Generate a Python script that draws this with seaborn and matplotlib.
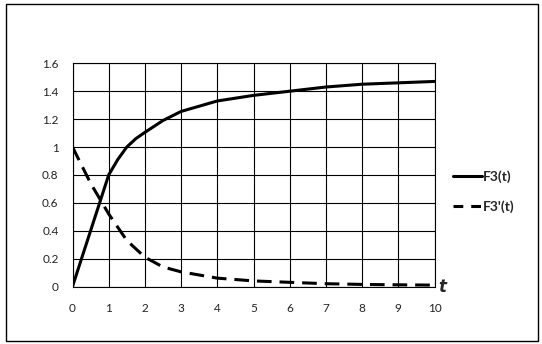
import numpy as np
import pandas as pd
import matplotlib
matplotlib.use('Agg')
import matplotlib.pyplot as plt
import seaborn as sns
from matplotlib.patches import Rectangle
from matplotlib.lines import Line2D

# values
t_f3 = [0, 1, 1.25, 1.5, 1.75, 2, 2.5, 3, 4, 5, 6, 7, 8, 9, 10]
f3 = [0, 0.80, 0.91, 1.0, 1.06, 1.105, 1.19, 1.255, 1.33, 1.37, 1.40, 1.43, 1.45, 1.46, 1.47]
t_f3p = [0, 0.5, 1, 1.5, 2, 2.5, 3, 4, 5, 6, 7, 8, 9, 10]
f3_prime = [1.0, 0.74, 0.52, 0.33, 0.21, 0.14, 0.105, 0.06, 0.04, 0.03, 0.02, 0.015, 0.012, 0.01]
series_names = ["F3(t)", "F3'(t)"]
x_ticks = list(range(0, 11))
y_ticks = [0, 0.2, 0.4, 0.6, 0.8, 1, 1.2, 1.4, 1.6]
y_labels = ["0", "0.2", "0.4", "0.6", "0.8", "1", "1.2", "1.4", "1.6"]

df = pd.DataFrame({
    't': t_f3 + t_f3p,
    'value': f3 + f3_prime,
    'series': [series_names[0]] * len(t_f3) + [series_names[1]] * len(t_f3p),
})

sns.set_style('white')
plt.rcParams['font.family'] = ['Lato', 'DejaVu Sans']

fig = plt.figure(figsize=(5.42, 3.44), dpi=100)
ax = fig.add_axes([72.5 / 542, 1 - 286.5 / 344, (434.5 - 72.5) / 542, (286.5 - 63.3) / 344])

sns.lineplot(data=df, x='t', y='value', hue='series', style='series',
             palette={series_names[0]: 'black', series_names[1]: 'black'},
             dashes={series_names[0]: '', series_names[1]: (4.8, 2.6)},
             linewidth=2.2, ax=ax, legend=False, zorder=3)

ax.set_xlim(0, 10)
ax.set_ylim(0, 1.6)
ax.set_xticks(x_ticks)
ax.set_yticks(y_ticks)
ax.set_yticklabels(y_labels)
ax.set_xlabel('')
ax.set_ylabel('')
ax.grid(True, color='black', linewidth=0.8)
ax.set_axisbelow(True)
for s in ax.spines.values():
    s.set_color('black')
    s.set_linewidth(0.8)
ax.tick_params(axis='both', length=0, labelsize=8.5, colors='#222222')
ax.tick_params(axis='x', pad=12)
ax.tick_params(axis='y', pad=10)

ax.text(1.01, 0.0, 't', transform=ax.transAxes, fontsize=12, fontstyle='italic',
        fontweight='bold', ha='left', va='center', family=['DejaVu Sans'])

# legend
handles = [Line2D([], [], color='black', lw=2.2),
           Line2D([], [], color='black', lw=2.2, dashes=(3.2, 2.6))]
leg = fig.legend(handles, series_names, loc='center left',
                 bbox_to_anchor=(440 / 542, 1 - 191.5 / 344), frameon=False,
                 handlelength=2.1, handletextpad=0.1, labelspacing=1.25,
                 prop={'size': 10, 'weight': 'bold'})

# chart border
fig.patches.append(Rectangle((6 / 542, 3 / 344), 532 / 542, 337 / 344,
                             transform=fig.transFigure, fill=False,
                             edgecolor='black', linewidth=1))

fig.savefig('out.png', dpi=100)
